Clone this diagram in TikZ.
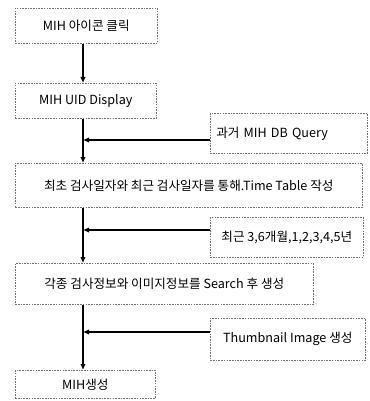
\documentclass[tikz,border=0pt]{standalone}
\usepackage{fontspec}
\setmainfont{Noto Sans CJK KR}
\usetikzlibrary{arrows.meta}
\begin{document}
\begin{tikzpicture}[x=1pt,y=-1pt,
  box/.style={draw=black!55, line width=0.6pt, dash pattern=on 1.6pt off 1.1pt,
    anchor=north west, inner sep=0pt, font=\fontsize{12.6}{14}\selectfont},
  flow/.style={draw=black, line width=1.3pt, -{Latex[length=6pt,width=5.5pt]}}]
\useasboundingbox (0,0) rectangle (369,401);
\node[box, minimum width=142, minimum height=35] (b1) at (15,8) {MIH 아이콘 클릭};
\node[box, minimum width=141, minimum height=35] (b2) at (15,83) {MIH UID Display};
\node[box, minimum width=157, minimum height=40, text width=149, align=left] (b3) at (210,113) {\hspace*{2pt}과거 MIH DB Query};
\node[box, minimum width=347, minimum height=44] (b4) at (15,163) {최초 검사일자와 최근 검사일자를 통해.Time Table 작성};
\node[box, minimum width=153, minimum height=40] (b5) at (210,217) {최근 3,6개월,1,2,3,4,5년};
\node[box, minimum width=298, minimum height=41] (b6) at (15,263) {각종 검사정보와 이미지정보를 Search 후 생성};
\node[box, minimum width=155, minimum height=42] (b7) at (210,318) {Thumbnail Image 생성};
\node[box, minimum width=140, minimum height=28] (b8) at (15,370) {MIH생성};
\coordinate (x) at (83,0);
\coordinate (j1) at (83,140);
\coordinate (j2) at (83,230);
\coordinate (j3) at (83,332);
\draw[flow] (b1.south -| x) -- (b2.north -| x);
\draw[flow] (b2.south -| x) -- (b4.north -| x);
\draw[flow] (b4.south -| x) -- (b6.north -| x);
\draw[flow] (b6.south -| x) -- (b8.north -| x);
\draw[flow] (b3.west |- j1) -- (j1);
\draw[flow] (b5.west |- j2) -- (j2);
\draw[flow] (b7.west |- j3) -- (j3);
\end{tikzpicture}
\end{document}
